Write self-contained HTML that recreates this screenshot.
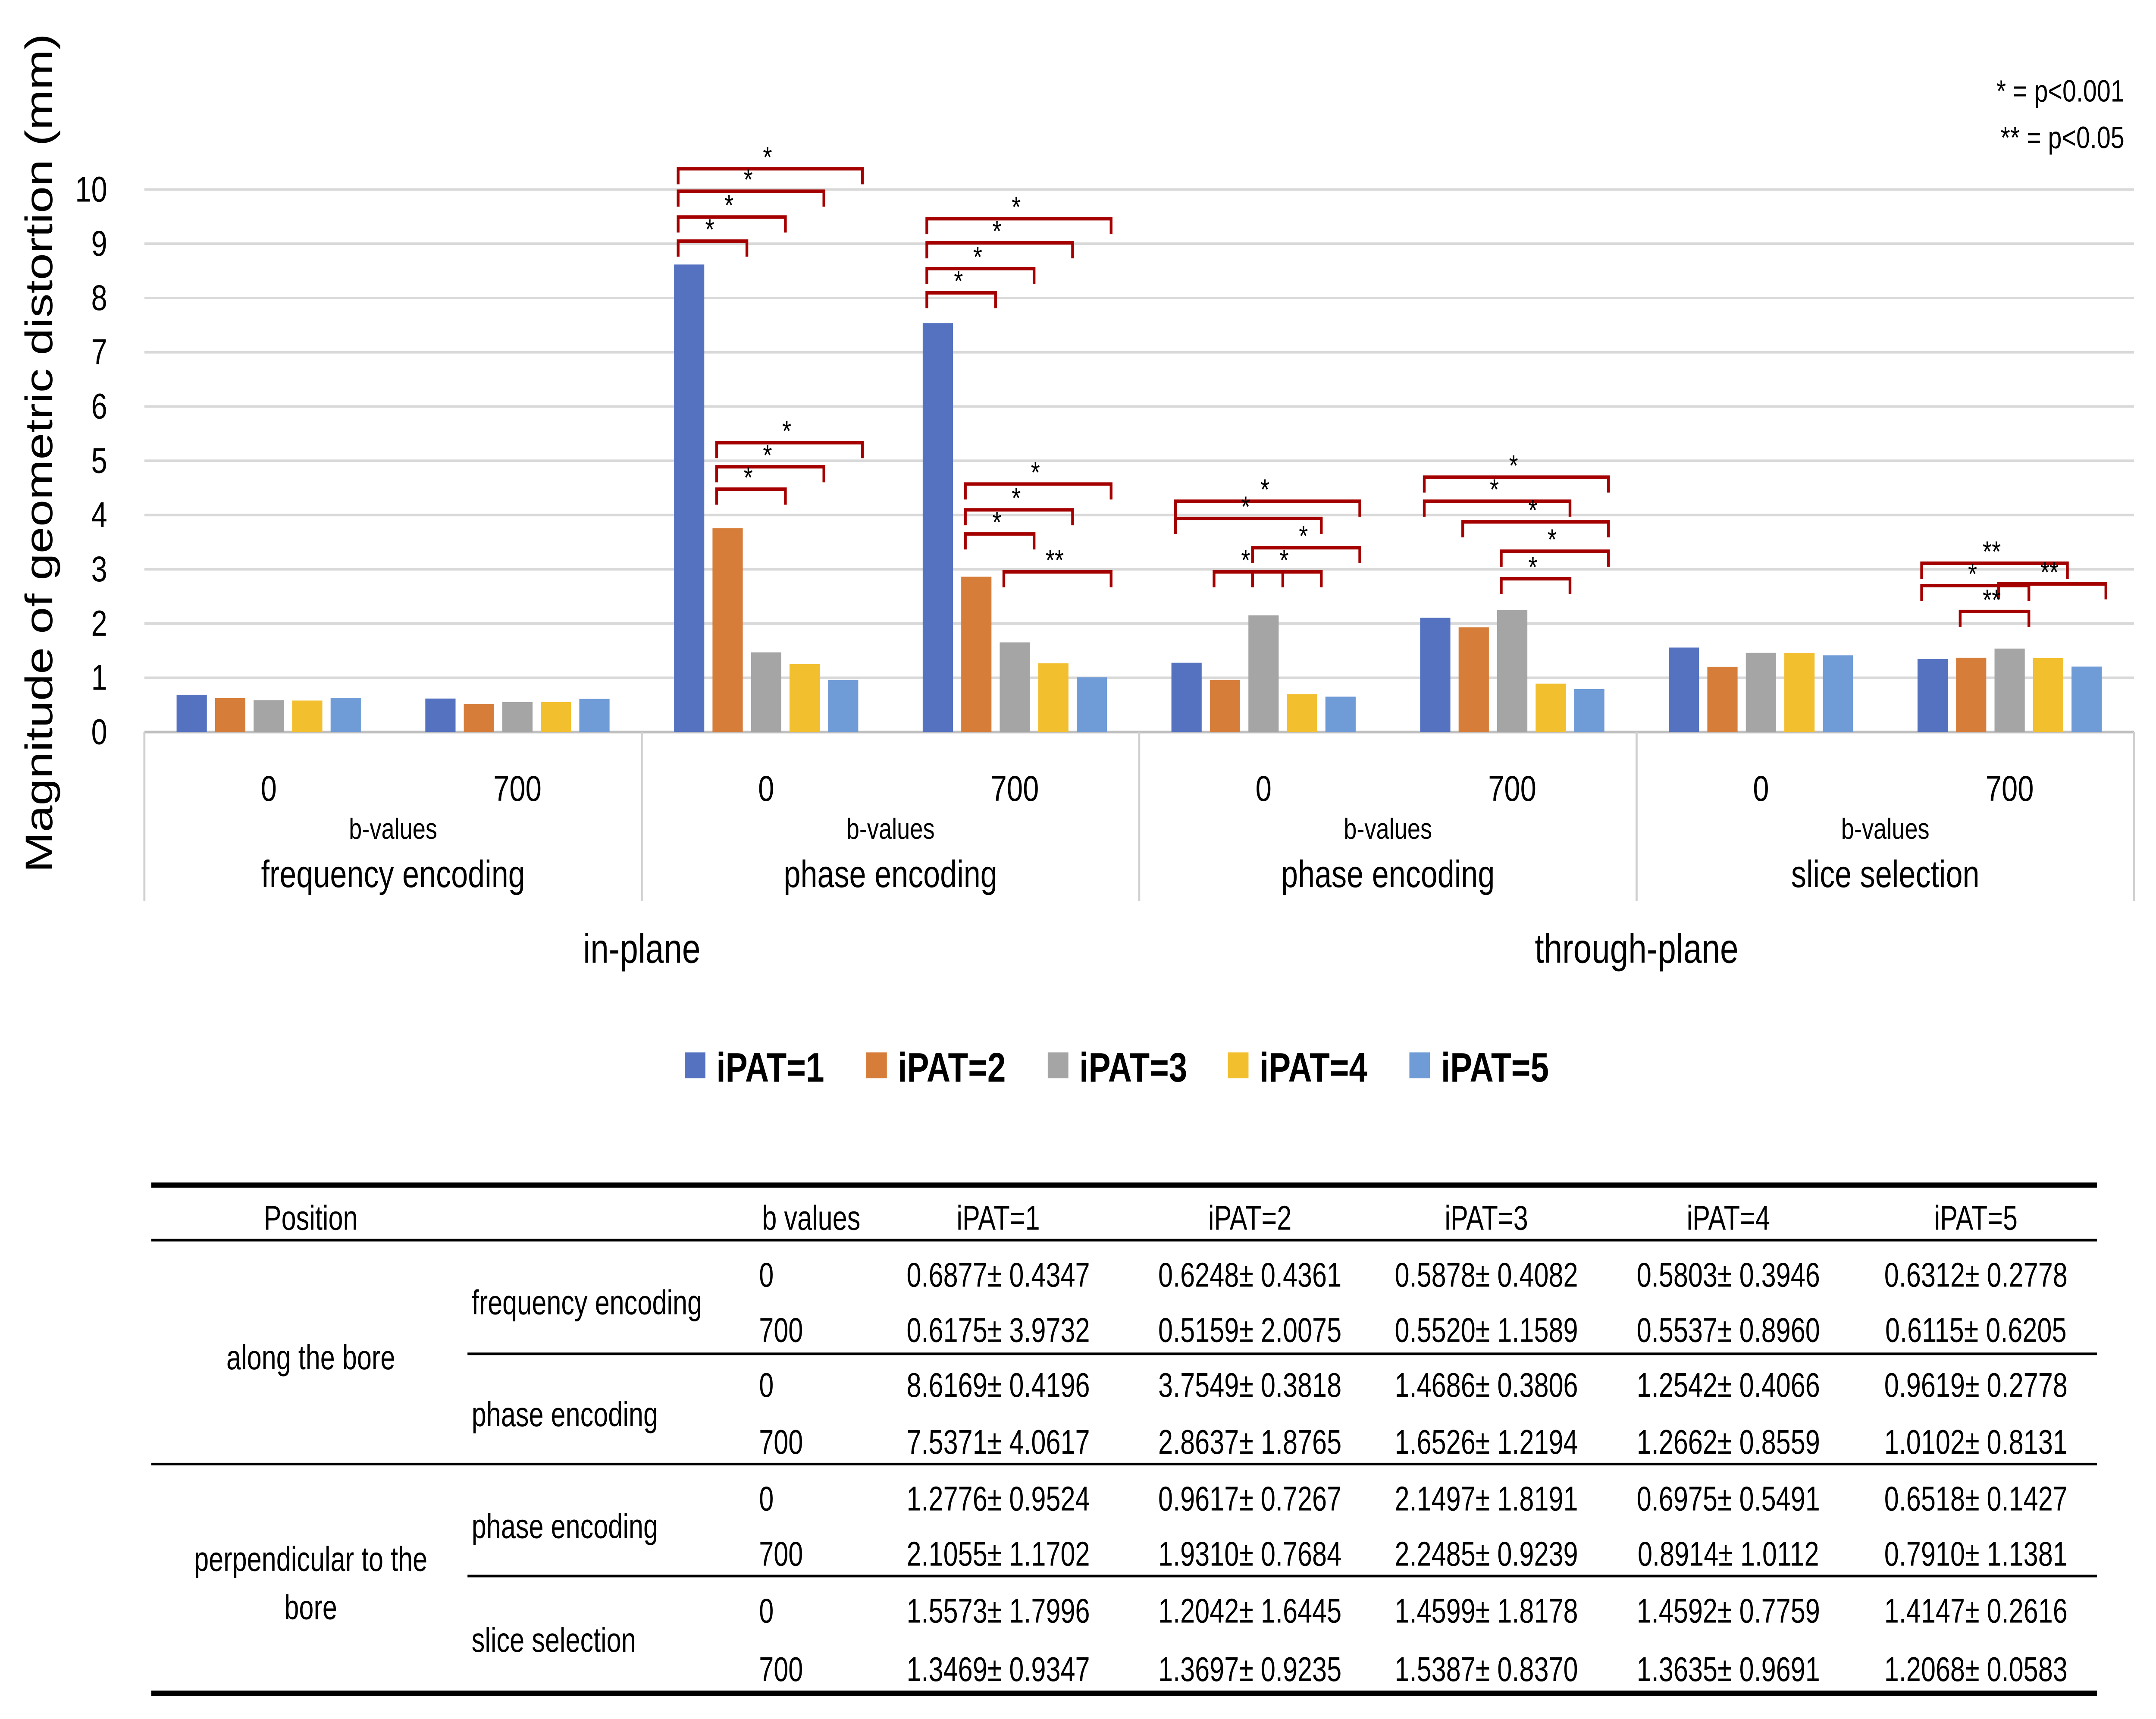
<!DOCTYPE html>
<html><head><meta charset="utf-8"><style>
html,body{margin:0;padding:0;background:#fff;overflow:hidden;width:100%;height:100%}
svg{display:block;width:100vw;height:100vh}
text{font-family:"Liberation Sans",sans-serif;fill:#000}
.c{transform-box:fill-box;transform:scaleX(.96)}
.cs{transform-origin:0% 50%}
.cm{transform-origin:50% 50%}
.ce{transform-origin:100% 50%}
</style></head><body>
<svg id="chart" viewBox="0 0 1568 998" preserveAspectRatio="none" xmlns="http://www.w3.org/2000/svg">
<g id="grid"></g>
<g id="bars"></g>
<g id="brackets"></g>
<g id="axis"></g>
<text transform="translate(38,263) rotate(-90)" text-anchor="middle" font-size="28">Magnitude of geometric distortion (mm)</text>
<text x="1545" y="59" text-anchor="end" font-size="18">* = p&lt;0.001</text>
<text x="1545" y="86" text-anchor="end" font-size="18">** = p&lt;0.05</text>
<g id="legend"></g>
<g id="table"></g>
</svg>
<script>
const NS="http://www.w3.org/2000/svg";
const categories=["0","700","0","700","0","700","0","700"];
const sections=["frequency encoding","phase encoding","phase encoding","slice selection"];
const seriesNames=["iPAT=1","iPAT=2","iPAT=3","iPAT=4","iPAT=5"];
const colors=["#5572c1","#d67d3a","#a5a5a5","#f2bf2f","#6f9bd7"];
const ipat1=[0.6877,0.6175,8.6169,7.5371,1.2776,2.1055,1.5573,1.3469];
const ipat2=[0.6248,0.5159,3.7549,2.8637,0.9617,1.9310,1.2042,1.3697];
const ipat3=[0.5878,0.5520,1.4686,1.6526,2.1497,2.2485,1.4599,1.5387];
const ipat4=[0.5803,0.5537,1.2542,1.2662,0.6975,0.8914,1.4592,1.3635];
const ipat5=[0.6312,0.6115,0.9619,1.0102,0.6518,0.7910,1.4147,1.2068];
const sd1=["0.4347","3.9732","0.4196","4.0617","0.9524","1.1702","1.7996","0.9347"];
const sd2=["0.4361","2.0075","0.3818","1.8765","0.7267","0.7684","1.6445","0.9235"];
const sd3=["0.4082","1.1589","0.3806","1.2194","1.8191","0.9239","1.8178","0.8370"];
const sd4=["0.3946","0.8960","0.4066","0.8559","0.5491","1.0112","0.7759","0.9691"];
const sd5=["0.2778","0.6205","0.2778","0.8131","0.1427","1.1381","0.2616","0.0583"];
const yTicks=[0,1,2,3,4,5,6,7,8,9,10];
// brackets: [group, fromBar, toBar, pixel y, label]
const brackets=[[2,0,4,98,"*"],[2,0,3,111,"*"],[2,0,2,126,"*"],[2,0,1,140,"*"],
[2,1,4,257,"*"],[2,1,3,271,"*"],[2,1,2,284,"*"],
[3,0,4,127,"*"],[3,0,3,141,"*"],[3,0,2,156,"*"],[3,0,1,170,"*"],
[3,1,4,281,"*"],[3,1,3,296,"*"],[3,1,2,310,"*"],[3,2,4,332,"**"],
[4,0,4,291,"*"],[4,0,3,301,"*"],[4,2,4,318,"*"],[4,1,2,332,"*"],[4,2,3,332,"*"],
[5,0,4,277,"*"],[5,0,3,291,"*"],[5,1,4,303,"*"],[5,2,4,320,"*"],[5,2,3,336,"*"],
[7,0,3,327,"**"],[7,0,2,340,"*"],[7,2,4,339,"**"],[7,1,2,355,"**"]];
const series=[ipat1,ipat2,ipat3,ipat4,ipat5];
const sds=[sd1,sd2,sd3,sd4,sd5];
const X0=105,X1=1552,Y0=425,Y10=110;
const cw=(X1-X0)/categories.length;
const yS=v=>Y0-(Y0-Y10)*v/10;
const gc=i=>X0+cw*(i+0.5);
const barX=(g,s)=>gc(g)-67+s*28;
function mk(tag,attrs,parent,txt){const e=document.createElementNS(NS,tag);for(const k in attrs)e.setAttribute(k,attrs[k]);if(txt!==undefined)e.textContent=txt;parent.appendChild(e);return e;}
const grid=document.getElementById('grid'),axis=document.getElementById('axis');
yTicks.forEach(t=>{
 const l=mk('line',{x1:X0,x2:X1,y1:yS(t),y2:yS(t),stroke:t===0?'#bfbfbf':'#d9d9d9','stroke-width':1.5},grid);
 
 
 const tx=mk('text',{x:78,y:yS(t)+7,'text-anchor':'end','font-size':21},axis,String(t));
 
 
});
const bars=document.getElementById('bars');
series.forEach((arr,s)=>arr.forEach((v,g)=>{
 const r=mk('rect',{x:barX(g,s),y:yS(v),width:22,height:Y0-yS(v),fill:colors[s]},bars);
 
 
}));
const br=document.getElementById('brackets');
brackets.forEach(b=>{
 const x1=barX(b[0],b[1])+3,x2=barX(b[0],b[2])+22+3,y=b[3];
 const p=mk('path',{d:`M${x1},${y+9}V${y}H${x2}V${y+9}`,fill:'none',stroke:'#a50000','stroke-width':2},br);
 
 
 const t=mk('text',{x:(x1+x2)/2-2,y:y-1,'text-anchor':'middle','font-size':17},br,b[4]);
 
 
});
categories.forEach((c,g)=>{
 const t=mk('text',{x:gc(g),y:465,'text-anchor':'middle','font-size':21},axis,c);
 
 
});
sections.forEach((s,i)=>{
 const cx=X0+cw*(2*i+1);
 const t1=mk('text',{x:cx,y:487,'text-anchor':'middle','font-size':17},axis,'b-values');
 
 
 const t2=mk('text',{x:cx,y:515,'text-anchor':'middle','font-size':22},axis,s);
 
 
});
for(let i=0;i<=4;i++){
 const x=X0+cw*2*i;
 const l=mk('line',{x1:x,x2:x,y1:425,y2:523,stroke:'#d0d0d0','stroke-width':1.5},axis);
 
 
}
[["in-plane",X0+cw*2],["through-plane",X0+cw*6]].forEach(a=>{
 const t=mk('text',{x:a[1],y:559,'text-anchor':'middle','font-size':24},axis,a[0]);
 
 
});
const lg=document.getElementById('legend');
const lx=[498,630,762,893,1025];
seriesNames.forEach((n,i)=>{
 const r=mk('rect',{x:lx[i],y:611,width:15,height:15,fill:colors[i]},lg);
 
 
 const t=mk('text',{x:lx[i]+23,y:628,'font-size':24,'font-weight':'bold'},lg,n);
 
 
});
const tb=document.getElementById('table');
function ln(x1,x2,y,w){const l=mk('line',{x1:x1,x2:x2,y1:y,y2:y,stroke:'#000','stroke-width':w},tb);}
ln(110,1525,688,3);ln(110,1525,720,1.5);ln(340,1525,786,1.5);ln(110,1525,850,1.5);ln(340,1525,915,1.5);ln(110,1525,983,3);
function tt(x,y,s,anchor){const a=anchor||'start';const t=mk('text',{x:x,y:y,'font-size':20,'text-anchor':a,class:'c '+(a==='start'?'cs':'cm')},tb,s);}
const colX=[726,909,1081,1257,1437];
tt(226,714,'Position','middle');tt(590,714,'b values','middle');
seriesNames.forEach((n,i)=>tt(colX[i],714,n,'middle'));
const rowY=[747,779,811,844,877,909,942,976];
rowY.forEach((y,r)=>{
 tt(552,y,categories[r]);
 series.forEach((arr,s)=>tt(colX[s],y,arr[r].toFixed(4)+'\u00b1 '+sds[s][r],'middle'));
});
tt(343,763,'frequency encoding');tt(343,828,'phase encoding');tt(343,893,'phase encoding');tt(343,959,'slice selection');
tt(226,795,'along the bore','middle');tt(226,912,'perpendicular to the','middle');tt(226,940,'bore','middle');
</script>
</body></html>
